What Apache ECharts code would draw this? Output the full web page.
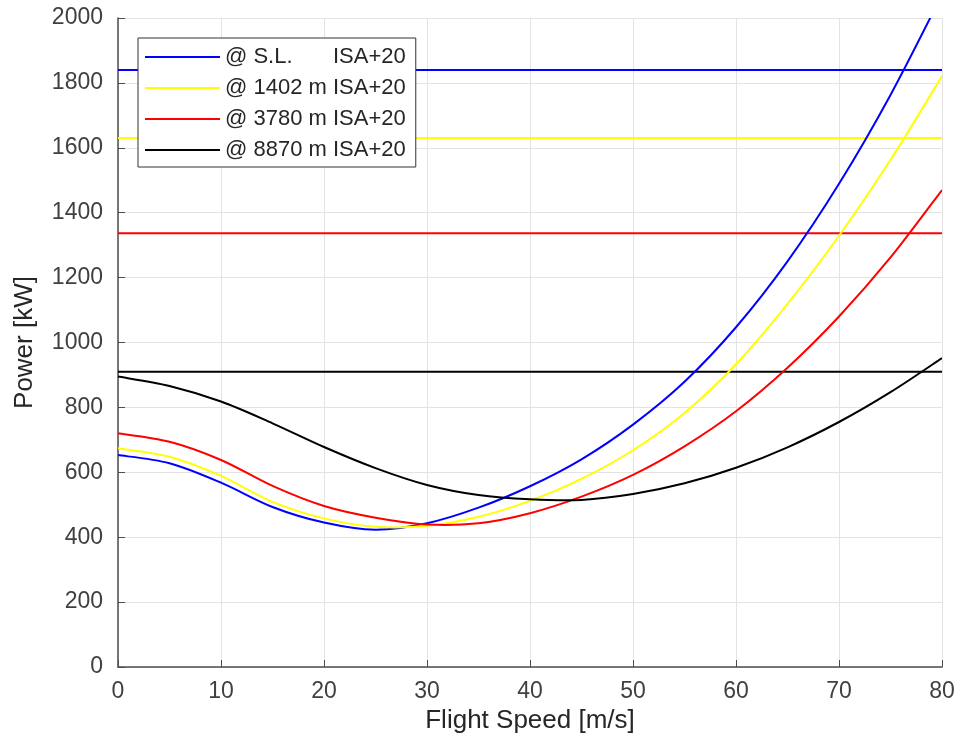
<!DOCTYPE html>
<html>
<head>
<meta charset="utf-8">
<script src="https://cdn.jsdelivr.net/npm/echarts@6/dist/echarts.min.js"></script>
<style>
html,body{margin:0;padding:0;background:#fff;}
#chart{width:959px;height:746px;}
</style>
</head>
<body>
<div id="chart"></div>
<script>
// Flight speed [m/s]
var speeds = [0,5,10,15,20,25,30,35,40,45,50,55,60,65,70,75,80];
// Required power [kW] per altitude
var powerSL   = [653,628,568,493,445,423,443,491,557,640,747,879,1047,1250,1489,1763,2072];
var power1402 = [674,648,589,509,458,432,435,463,512,580,668,783,933,1119,1329,1563,1821];
var power3780 = [720,694,638,558,496,460,439,443,474,525,592,680,788,922,1080,1262,1470];
var power8870 = [895,866,818,751,678,613,561,530,517,515,533,566,614,677,755,847,952];
// Available power [kW] (horizontal lines)
var availPower = [1840,1630,1337,910];
var seriesNames = ['@ S.L.','@ 1402 m','@ 3780 m','@ 8870 m'];
var suffix = 'ISA+20';
var colors = ['#0000ff','#ffff00','#ff0000','#000000'];
var xTicks = [0,10,20,30,40,50,60,70,80];
var yTicks = [0,200,400,600,800,1000,1200,1400,1600,1800,2000];

var FONT = '"Liberation Sans", Arial, Helvetica, sans-serif';
var legendSize = 22;
var cv = document.createElement('canvas').getContext('2d');
cv.font = legendSize + 'px ' + FONT;
var prefixW = Math.ceil(cv.measureText('@ 8870 m ').width);

var allPower = [powerSL, power1402, power3780, power8870];

// Smooth curve through the data points, positioned with the chart's own scales (api.coord)
function makeRender(vals, color){
  return function(params, api){
    if (params.dataIndex !== 0) return null;
    var p = speeds.map(function(s, i){ return api.coord([s, vals[i]]); });
    var n = p.length;
    function P(i){ return p[Math.max(0, Math.min(n - 1, i))]; }
    var d = 'M' + p[0][0] + ',' + p[0][1];
    for (var i = 0; i < n - 1; i++){
      var a = P(i - 1), b = P(i), c = P(i + 1), e = P(i + 2);
      var c1x = b[0] + (c[0] - a[0]) / 6, c1y = b[1] + (c[1] - a[1]) / 6;
      var c2x = c[0] - (e[0] - b[0]) / 6, c2y = c[1] - (e[1] - b[1]) / 6;
      d += ' C' + c1x + ',' + c1y + ' ' + c2x + ',' + c2y + ' ' + c[0] + ',' + c[1];
    }
    var cs = params.coordSys;
    return {
      type: 'path',
      shape: {pathData: d},
      style: {stroke: color, fill: null, lineWidth: 2},
      clipPath: {type: 'rect', shape: {x: cs.x, y: cs.y, width: cs.width, height: cs.height}},
      silent: true
    };
  };
}

var series = [];
allPower.forEach(function(vals, k){
  series.push({
    name: seriesNames[k],
    type: 'custom',
    coordinateSystem: 'cartesian2d',
    data: [[speeds[0], vals[0]]],
    encode: {x: 0, y: 1},
    renderItem: makeRender(vals, colors[k]),
    itemStyle: {color: colors[k]},
    z: 3
  });
});
availPower.forEach(function(v, k){
  series.push({
    type: 'line',
    data: [[speeds[0], v], [speeds[speeds.length - 1], v]],
    symbol: 'none',
    silent: true,
    lineStyle: {color: colors[k], width: 2},
    itemStyle: {color: colors[k]},
    z: 2
  });
});

var chart = echarts.init(document.getElementById('chart'), null, {renderer: 'canvas'});
chart.setOption({
  animation: false,
  backgroundColor: '#ffffff',
  grid: {left: 118, right: 17, top: 18, bottom: 79, containLabel: false},
  legend: {
    orient: 'vertical',
    left: 138, top: 38,
    backgroundColor: '#ffffff',
    borderColor: '#333333',
    borderWidth: 1,
    padding: [8, 10, 6, 7],
    icon: 'rect',
    itemWidth: 75,
    itemHeight: 2,
    itemGap: 9,
    data: seriesNames.map(function(nm, k){ return {name: nm, itemStyle: {color: colors[k]}}; }),
    formatter: function(name){ return '{a|' + name + '}{b|' + suffix + '}'; },
    textStyle: {
      fontFamily: FONT, fontSize: legendSize, color: '#262626', lineHeight: 22,
      rich: {
        a: {fontFamily: FONT, fontSize: legendSize, color: '#262626', width: prefixW, lineHeight: 22},
        b: {fontFamily: FONT, fontSize: legendSize, color: '#262626', lineHeight: 22}
      }
    }
  },
  xAxis: {
    type: 'value',
    min: 0, max: 80, interval: 10,
    name: 'Flight Speed [m/s]',
    nameLocation: 'middle',
    nameGap: 38,
    nameTextStyle: {fontFamily: FONT, fontSize: 26, color: '#262626'},
    axisLine: {show: true, lineStyle: {color: '#4d4d4d', width: 1.5}},
    axisTick: {show: true, inside: true, length: 7, lineStyle: {color: '#4d4d4d'}},
    axisLabel: {fontFamily: FONT, fontSize: 23, color: '#404040', margin: 13,
      formatter: function(v){ return xTicks.indexOf(v) >= 0 ? String(v) : ''; }},
    splitLine: {show: true, lineStyle: {color: '#e3e3e3', width: 1}}
  },
  yAxis: {
    type: 'value',
    min: 0, max: 2000, interval: 200,
    name: 'Power [kW]',
    nameLocation: 'middle',
    nameGap: 80,
    nameTextStyle: {fontFamily: FONT, fontSize: 26, color: '#262626'},
    axisLine: {show: true, lineStyle: {color: '#4d4d4d', width: 1.5}},
    axisTick: {show: true, inside: true, length: 7, lineStyle: {color: '#4d4d4d'}},
    axisLabel: {fontFamily: FONT, fontSize: 23, color: '#404040', margin: 15,
      formatter: function(v){ return yTicks.indexOf(v) >= 0 ? String(v) : ''; }},
    splitLine: {show: true, lineStyle: {color: '#e3e3e3', width: 1}}
  },
  series: series
});
</script>
</body>
</html>
